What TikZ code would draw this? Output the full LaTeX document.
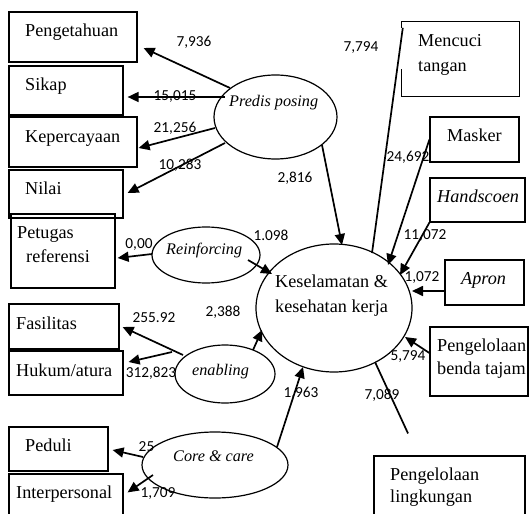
\documentclass[tikz,border=0pt]{standalone}
\usepackage{fontspec}
\setmainfont{Liberation Serif}
\newfontfamily\lblfont{Carlito}
\usetikzlibrary{arrows.meta,calc,shapes.geometric}
\begin{document}
\begin{tikzpicture}[x=1pt,y=-1pt,
  box/.style={draw, line width=1.2pt, inner sep=0pt},
  ell/.style={draw, ellipse, line width=1.2pt, inner sep=0pt},
  txt/.style={anchor=west, inner sep=0pt, font=\fontsize{18.2}{21}\selectfont, text height=12.9pt, text depth=4.5pt},
  itx/.style={anchor=west, inner sep=0pt, font=\fontsize{16.2}{19}\selectfont\itshape, text height=11.5pt, text depth=4.1pt},
  ibx/.style={txt, font=\fontsize{18.2}{21}\selectfont\itshape},
  lbl/.style={inner sep=0pt, font=\fontsize{15.3}{18}\lblfont, text height=10pt, text depth=0.2pt},
  arr/.style={line width=1.7pt, -{Triangle[length=11pt,width=10pt]}},
  ln/.style={line width=1.7pt}
]
\clip (0,0) rectangle (529,513);

% left boxes
\node[box, minimum width=128pt, minimum height=50pt] (peng) at (73,37) {};
\node[box, minimum width=114pt, minimum height=49pt] (sikap) at (66,90.5) {};
\node[box, minimum width=128pt, minimum height=50pt] (keper) at (73,142) {};
\node[box, minimum width=114pt, minimum height=48pt] (nilai) at (66,194) {};
\node[box, minimum width=104pt, minimum height=74pt] (petugas) at (63,251) {};
\node[box, minimum width=110pt, minimum height=45pt] (fasil) at (64,326.5) {};
\node[box, minimum width=114pt, minimum height=44pt] (hukum) at (66,373) {};
\node[box, minimum width=99pt, minimum height=44pt] (peduli) at (58.5,449) {};
\node[box, minimum width=114pt, minimum height=56pt] (inter) at (66,502) {};

% right boxes
\node[inner sep=0pt, minimum width=117pt, minimum height=74pt] (mencuci) at (460.5,59) {};
\draw[line width=1.2pt] ($(mencuci.north west)+(0,6)$) -- (mencuci.north west) -- (mencuci.north east) -- (mencuci.south east) -- (mencuci.south west) -- ++(0,-27);
\node[box, minimum width=89pt, minimum height=45pt] (masker) at (474.5,139.5) {};
\node[box, minimum width=95pt, minimum height=44pt] (hands) at (477.5,200) {};
\node[box, minimum width=79pt, minimum height=45pt] (apron) at (484.5,282.5) {};
\node[box, minimum width=98pt, minimum height=69pt] (benda) at (479,361.5) {};
\node[box, minimum width=151pt, minimum height=74pt] (lingk) at (449.5,493) {};

% ellipses
\node[ell, minimum width=123pt, minimum height=84pt] (pred) at (275.5,117) {};
\node[ell, minimum width=108pt, minimum height=56pt] (reinf) at (206,255) {};
\node[ell, minimum width=156pt, minimum height=128pt] (main) at (334,308) {};
\node[ell, minimum width=100pt, minimum height=58pt] (enab) at (225,374) {};
\node[ell, minimum width=146pt, minimum height=66pt] (core) at (215,465) {};

% box texts
\node[txt] (tpeng) at (25,32) {Pengetahuan};
\node[txt] (tsikap) at (25,86) {Sikap};
\node[txt] (tkeper) at (25,138) {Kepercayaan};
\node[txt] (tnilai) at (25,190) {Nilai};
\node[txt] (tpet1) at (17,234) {Petugas};
\node[txt] (tpet2) at (26,258) {referensi};
\node[txt] (tfasil) at (16,325) {Fasilitas};
\node[txt] (thukum) at (16,372) {Hukum/atura};
\node[txt] (tpeduli) at (25,447) {Peduli};
\node[txt] (tinter) at (16,494) {Interpersonal};
\node[txt] (tmen1) at (418,42) {Mencuci};
\node[txt] (tmen2) at (418,67) {tangan};
\node[txt] (tmask) at (447,137) {Masker};
\node[ibx] (thand) at (437,198) {Handscoen};
\node[ibx] (tapron) at (461,280) {Apron};
\node[txt] (tben1) at (437,347) {Pengelolaan};
\node[txt] (tben2) at (437,370) {benda tajam};
\node[txt] (tlin1) at (390,476) {Pengelolaan};
\node[txt] (tlin2) at (390,498) {lingkungan};
\node[txt] (tmain1) at (275,283) {Keselamatan \&};
\node[txt] (tmain2) at (275,308) {kesehatan kerja};
\node[itx] (tpred) at (229,103) {Predis posing};
\node[itx] (treinf) at (166,251) {Reinforcing};
\node[itx] (tenab) at (192,372) {enabling};
\node[itx] (tcore) at (173,458) {Core \& care};

% labels
\node[lbl] (l1) at (194,42) {7,936};
\node[lbl] (l2) at (175,96) {15,015};
\node[lbl] (l3) at (175,128) {21,256};
\node[lbl] (l4) at (180,165) {10,283};
\node[lbl] (l5) at (295,178) {2,816};
\node[lbl] (l6) at (361,47) {7,794};
\node[lbl] (l7) at (408,157) {24,692};
\node[lbl] (l8) at (425,235) {11,072};
\node[lbl] (l9) at (422,277) {1,072};
\node[lbl] (l10) at (408,356) {5,794};
\node[lbl] (l11) at (382,395) {7,089};
\node[lbl] (l12) at (301,393) {1,963};
\node[lbl] (l13) at (223,312) {2,388};
\node[lbl] (l14) at (271,236) {1.098};
\node[lbl] (l15) at (139,244) {0,00};
\node[lbl] (l16) at (154,318) {255.92};
\node[lbl] (l17) at (151,373) {312,823};
\node[lbl] (l18) at (146.5,447) {25};
\node[lbl] (l19) at (158,493) {1,709};

% connectors
\draw[arr] ($(pred)+(-45.5,-29)$) -- ($(peng.east)+(6,11)$);
\draw[arr] ($(pred)+(-50.5,-20)$) -- ($(sikap.east)+(4,6.5)$);
\draw[arr] ($(pred)+(-60.5,11)$) -- ($(keper.east)+(1,6)$);
\draw[arr] ($(pred)+(-50.5,26)$) -- ($(nilai.east)+(4,-1)$);
\draw[arr] ($(pred)+(46.5,28)$) -- ($(main)+(8,-63)$);
\draw[ln] ($(mencuci.north west)+(1,6)$) -- ($(main)+(38,-55)$);
\draw[arr] (masker.west) -- ($(main)+(54,-43)$);
\draw[arr] (hands.south west) -- ($(main)+(66,-33)$);
\draw[arr] ($(apron.west)+(0,8.5)$) -- ($(main)+(78,-17)$);
\draw[arr] ($(benda.west)+(0,-8.5)$) -- ($(main)+(71,29)$);
\draw[ln] ($(lingk.north)+(-41.5,-22)$) -- ($(main)+(41,54)$);
\draw[arr] ($(core)+(62,-18)$) -- ($(main)+(-31,59)$);
\draw[arr] ($(enab)+(28,-24)$) -- ($(main)+(-72,22)$);
\draw[arr] ($(reinf)+(42,5)$) -- ($(main)+(-62,-34)$);
\draw[arr] ($(reinf)+(-54,-1)$) -- ($(petugas.east)+(2,7)$);
\draw[arr] ($(enab)+(-42,-19)$) -- ($(fasil.east)+(3,0.5)$);
\draw[arr] ($(enab)+(-53,-22)$) -- ($(hukum.east)+(5,-11)$);
\draw[arr] ($(core)+(-72,-8)$) -- ($(peduli.east)+(4,1)$);
\draw[arr] ($(core)+(-62,10)$) -- ($(inter.north east)+(4,19)$);
\end{tikzpicture}
\end{document}
